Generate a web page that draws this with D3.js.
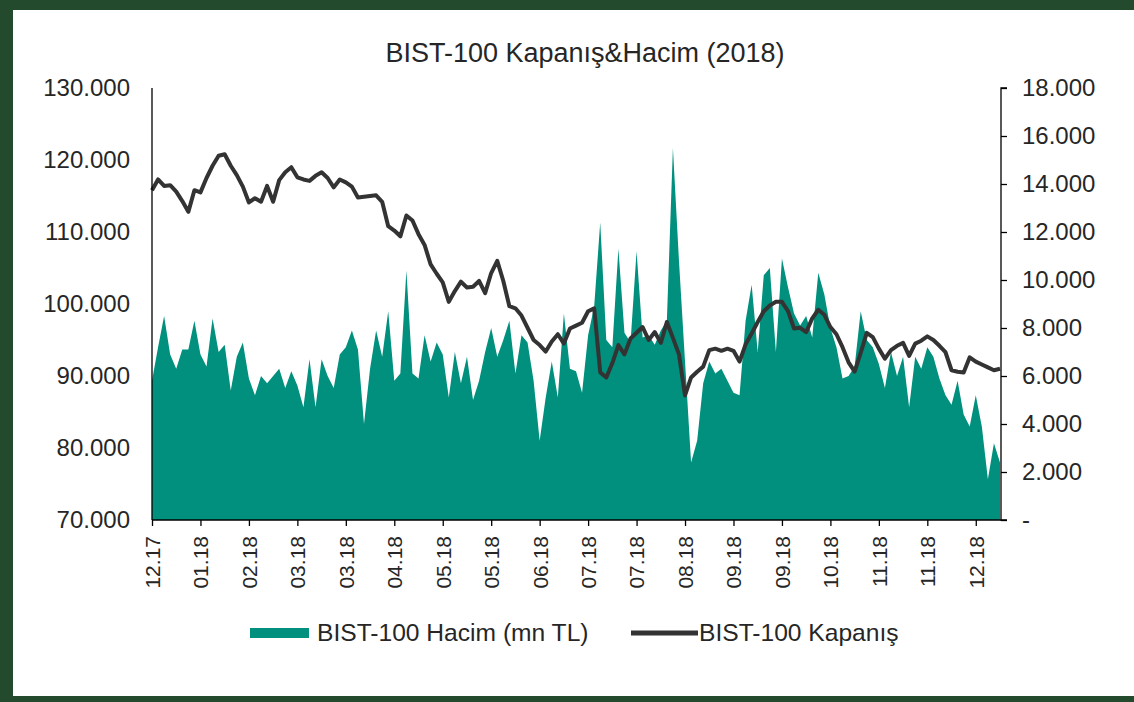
<!DOCTYPE html>
<html>
<head>
<meta charset="utf-8">
<script src="https://cdn.jsdelivr.net/npm/d3@7"></script>
<style>
  body { margin: 0; background: #fff; }
  svg { display: block; font-family: "Liberation Sans", Arial, sans-serif; }
</style>
</head>
<body>
<div id="vis"></div>
<script>
const WIDTH = 1134;
const HEIGHT = 702;

// etiquetas del eje x (una cada 8 sesiones)
const TICK_LABELS = ["12.17", "01.18", "02.18", "03.18", "03.18", "04.18", "05.18", "05.18", "06.18",
  "07.18", "07.18", "08.18", "09.18", "09.18", "10.18", "11.18", "11.18", "12.18"];
const TICK_STEP = 8;

// BIST-100 kapanis
const KAPANIS = [115800, 117300, 116400, 116500, 115600, 114300, 112800, 115800, 115500, 117500,
  119200, 120600, 120800, 119200, 117900, 116300, 114100, 114700, 114200, 116400,
  114200, 117200, 118300, 119000, 117600, 117300, 117100, 117800, 118300, 117500,
  116200, 117300, 116900, 116300, 114800, 114900, 115000, 115100, 114200, 110800,
  110200, 109400, 112300, 111600, 109700, 108200, 105500, 104200, 103000, 100300,
  101800, 103100, 102300, 102400, 103200, 101500, 104300, 106000, 103200, 99700,
  99400, 98400, 96700, 95000, 94300, 93400, 94800, 95800, 94500, 96600,
  97000, 97400, 99000, 99400, 90500, 89800, 91800, 94300, 93000, 95200,
  96000, 96800, 95000, 96100, 94600, 97500, 95300, 93000, 87300, 89800,
  90600, 91300, 93600, 93800, 93500, 93800, 93500, 92000, 94400, 95900,
  97500, 99000, 99800, 100300, 100300, 99000, 96600, 96700, 96100, 98000,
  99200, 98500, 96800, 95800, 94000, 91900, 90600, 93200, 96000, 95400,
  93800, 92400, 93600, 94200, 94600, 92800, 94500, 94900, 95500, 95000,
  94200, 93300, 90800, 90600, 90500, 92600, 92000, 91600, 91200, 90800,
  91000];

// BIST-100 hacim (mn TL)
const HACIM = [5800, 7200, 8500, 6900, 6300, 7100, 7100, 8300, 6900, 6400,
  8400, 7000, 7300, 5400, 6800, 7400, 5900, 5200, 6000, 5700,
  6000, 6300, 5500, 6200, 5600, 4700, 6700, 4700, 6700, 6000,
  5500, 6900, 7200, 7900, 7100, 4000, 6300, 7900, 6800, 8700,
  5800, 6100, 10400, 6100, 5900, 7700, 6600, 7400, 6900, 5100,
  7000, 5700, 6800, 5000, 5800, 7000, 8000, 6800, 7500, 8300,
  6100, 7700, 7400, 5800, 3300, 5100, 6600, 5100, 8600, 6300,
  6200, 5300, 7700, 8900, 12400, 7500, 7200, 11300, 7800, 7400,
  11200, 7600, 7700, 7300, 7900, 8300, 15500, 10800, 6600, 2400,
  3300, 5700, 6600, 6100, 6300, 5800, 5300, 5200, 8300, 9800,
  7000, 10200, 10500, 7000, 10900, 9700, 8600, 8100, 8500, 7600,
  10300, 9400, 8000, 7200, 5900, 6000, 6400, 8700, 7500, 7200,
  6500, 5500, 7000, 6000, 6800, 4700, 6800, 6300, 7200, 6800,
  5900, 5200, 4800, 5800, 4400, 3900, 5200, 3900, 1700, 3200,
  2400];

const LEFT_TICKS = [70000, 80000, 90000, 100000, 110000, 120000, 130000];
const RIGHT_TICKS = [0, 2000, 4000, 6000, 8000, 10000, 12000, 14000, 16000, 18000];

const VERDE = "#00907d";
const GRIS = "#333333";
const TEXTO = "#262626";
const MARCO = "#234a2c";

const locale = d3.formatLocale({ decimal: ",", thousands: ".", grouping: [3], currency: ["", ""] });
const fmt = locale.format(",.0f");

const svg = d3.select("#vis").append("svg").attr("width", WIDTH).attr("height", HEIGHT);

// marco verde
svg.append("rect").attr("x", 0).attr("y", 0).attr("width", WIDTH).attr("height", HEIGHT).attr("fill", MARCO);
svg.append("rect").attr("x", 13).attr("y", 10).attr("width", WIDTH - 13).attr("height", 686).attr("fill", "#fff");

const margin = { left: 152, right: 1001, top: 88, bottom: 520 };

const x = d3.scaleLinear().domain([0, KAPANIS.length - 1]).range([margin.left, 1000]);
const yLeft = d3.scaleLinear().domain([70000, 130000]).range([margin.bottom, margin.top]);
const yRight = d3.scaleLinear().domain([0, 18000]).range([margin.bottom, margin.top]);

const datos = KAPANIS.map((k, i) => ({ i: i, kapanis: k, hacim: HACIM[i] }));

// area de volumen
const area = d3.area()
  .x(d => x(d.i))
  .y0(yRight(0))
  .y1(d => yRight(d.hacim));

svg.append("path")
  .datum(datos)
  .attr("d", area)
  .attr("fill", VERDE);

// linea de cierre
const linea = d3.line()
  .x(d => x(d.i))
  .y(d => yLeft(d.kapanis));

svg.append("path")
  .datum(datos)
  .attr("d", linea)
  .attr("fill", "none")
  .attr("stroke", GRIS)
  .attr("stroke-width", 4)
  .attr("stroke-linejoin", "round");

// ejes
const ejeIzq = svg.append("g")
  .attr("transform", `translate(${margin.left},0)`)
  .call(d3.axisLeft(yLeft).tickValues(LEFT_TICKS).tickSize(0).tickPadding(22).tickFormat(fmt));

const ejeDer = svg.append("g")
  .attr("transform", `translate(${margin.right},0)`)
  .call(d3.axisRight(yRight).tickValues(RIGHT_TICKS).tickSize(6).tickPadding(15)
    .tickFormat(d => d === 0 ? "-" : fmt(d)));

const ejeX = svg.append("g")
  .attr("transform", `translate(0,${margin.bottom})`)
  .call(d3.axisBottom(x)
    .tickValues(TICK_LABELS.map((_, k) => k * TICK_STEP))
    .tickSize(6)
    .tickFormat((d, k) => TICK_LABELS[k]));

// la linea del eje x llega hasta el eje derecho
ejeX.select(".domain").attr("d", `M${margin.left},0H${margin.right}`);

ejeX.selectAll("text")
  .attr("transform", "rotate(-90)")
  .attr("text-anchor", "end")
  .attr("x", -16)
  .attr("y", 0)
  .attr("dy", "0.35em")
  .style("font-size", "21px");

[ejeIzq, ejeDer, ejeX].forEach(g => {
  g.select(".domain").attr("stroke", "#000").attr("stroke-width", 1.3);
  g.selectAll(".tick line").attr("stroke", "#000").attr("stroke-width", 1.3);
  g.selectAll("text").attr("fill", TEXTO).style("font-family", "'Liberation Sans', Arial, sans-serif");
});
ejeIzq.selectAll("text").style("font-size", "24px");
ejeDer.selectAll("text").style("font-size", "24px");
ejeIzq.select(".domain").attr("d", `M0,${margin.top}V${margin.bottom}`);
ejeDer.select(".domain").attr("d", `M6,${margin.top}H0V${margin.bottom}H6`);

// titulo
svg.append("text")
  .attr("x", 585)
  .attr("y", 62)
  .attr("text-anchor", "middle")
  .attr("fill", TEXTO)
  .style("font-size", "27px")
  .text("BIST-100 Kapanış&Hacim (2018)");

// leyenda
const leyenda = svg.append("g");
leyenda.append("rect")
  .attr("x", 250).attr("y", 628).attr("width", 59).attr("height", 10)
  .attr("fill", VERDE);
leyenda.append("text")
  .attr("x", 317).attr("y", 641)
  .attr("fill", TEXTO)
  .style("font-size", "24.6px")
  .text("BIST-100 Hacim (mn TL)");
leyenda.append("line")
  .attr("x1", 631).attr("x2", 698).attr("y1", 633).attr("y2", 633)
  .attr("stroke", GRIS).attr("stroke-width", 5);
leyenda.append("text")
  .attr("x", 699).attr("y", 641)
  .attr("fill", TEXTO)
  .style("font-size", "24.6px")
  .text("BIST-100 Kapanış");
</script>
</body>
</html>
